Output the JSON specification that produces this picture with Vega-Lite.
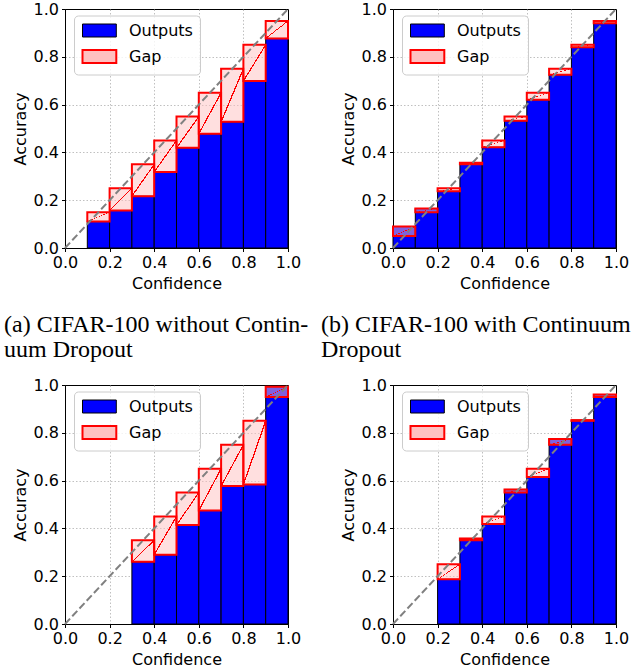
{
  "$schema": "https://vega.github.io/schema/vega-lite/v6.json",
  "padding": {"left": 3, "top": 0, "right": 0, "bottom": 0},
  "background": "white",
  "datasets": {
    "bars": [
      {"p": "a", "lo": 0.1, "hi": 0.2, "from": 0, "to": 0.111, "series": "Outputs"},
      {"p": "a", "lo": 0.2, "hi": 0.3, "from": 0, "to": 0.157, "series": "Outputs"},
      {"p": "a", "lo": 0.3, "hi": 0.4, "from": 0, "to": 0.217, "series": "Outputs"},
      {"p": "a", "lo": 0.4, "hi": 0.5, "from": 0, "to": 0.318, "series": "Outputs"},
      {"p": "a", "lo": 0.5, "hi": 0.6, "from": 0, "to": 0.419, "series": "Outputs"},
      {"p": "a", "lo": 0.6, "hi": 0.7, "from": 0, "to": 0.478, "series": "Outputs"},
      {"p": "a", "lo": 0.7, "hi": 0.8, "from": 0, "to": 0.528, "series": "Outputs"},
      {"p": "a", "lo": 0.8, "hi": 0.9, "from": 0, "to": 0.699, "series": "Outputs"},
      {"p": "a", "lo": 0.9, "hi": 1.0, "from": 0, "to": 0.877, "series": "Outputs"},
      {"p": "a", "lo": 0.1, "hi": 0.2, "from": 0.111, "to": 0.15, "series": "Gap"},
      {"p": "a", "lo": 0.2, "hi": 0.3, "from": 0.157, "to": 0.25, "series": "Gap"},
      {"p": "a", "lo": 0.3, "hi": 0.4, "from": 0.217, "to": 0.35, "series": "Gap"},
      {"p": "a", "lo": 0.4, "hi": 0.5, "from": 0.318, "to": 0.45, "series": "Gap"},
      {"p": "a", "lo": 0.5, "hi": 0.6, "from": 0.419, "to": 0.55, "series": "Gap"},
      {"p": "a", "lo": 0.6, "hi": 0.7, "from": 0.478, "to": 0.65, "series": "Gap"},
      {"p": "a", "lo": 0.7, "hi": 0.8, "from": 0.528, "to": 0.75, "series": "Gap"},
      {"p": "a", "lo": 0.8, "hi": 0.9, "from": 0.699, "to": 0.85, "series": "Gap"},
      {"p": "a", "lo": 0.9, "hi": 1.0, "from": 0.877, "to": 0.95, "series": "Gap"},

      {"p": "b", "lo": 0.0, "hi": 0.1, "from": 0, "to": 0.09, "series": "Outputs"},
      {"p": "b", "lo": 0.1, "hi": 0.2, "from": 0, "to": 0.165, "series": "Outputs"},
      {"p": "b", "lo": 0.2, "hi": 0.3, "from": 0, "to": 0.237, "series": "Outputs"},
      {"p": "b", "lo": 0.3, "hi": 0.4, "from": 0, "to": 0.357, "series": "Outputs"},
      {"p": "b", "lo": 0.4, "hi": 0.5, "from": 0, "to": 0.422, "series": "Outputs"},
      {"p": "b", "lo": 0.5, "hi": 0.6, "from": 0, "to": 0.532, "series": "Outputs"},
      {"p": "b", "lo": 0.6, "hi": 0.7, "from": 0, "to": 0.62, "series": "Outputs"},
      {"p": "b", "lo": 0.7, "hi": 0.8, "from": 0, "to": 0.725, "series": "Outputs"},
      {"p": "b", "lo": 0.8, "hi": 0.9, "from": 0, "to": 0.84, "series": "Outputs"},
      {"p": "b", "lo": 0.9, "hi": 1.0, "from": 0, "to": 0.94, "series": "Outputs"},
      {"p": "b", "lo": 0.0, "hi": 0.1, "from": 0.09, "to": 0.05, "series": "Gap"},
      {"p": "b", "lo": 0.1, "hi": 0.2, "from": 0.165, "to": 0.15, "series": "Gap"},
      {"p": "b", "lo": 0.2, "hi": 0.3, "from": 0.237, "to": 0.25, "series": "Gap"},
      {"p": "b", "lo": 0.3, "hi": 0.4, "from": 0.357, "to": 0.35, "series": "Gap"},
      {"p": "b", "lo": 0.4, "hi": 0.5, "from": 0.422, "to": 0.45, "series": "Gap"},
      {"p": "b", "lo": 0.5, "hi": 0.6, "from": 0.532, "to": 0.55, "series": "Gap"},
      {"p": "b", "lo": 0.6, "hi": 0.7, "from": 0.62, "to": 0.65, "series": "Gap"},
      {"p": "b", "lo": 0.7, "hi": 0.8, "from": 0.725, "to": 0.75, "series": "Gap"},
      {"p": "b", "lo": 0.8, "hi": 0.9, "from": 0.84, "to": 0.85, "series": "Gap"},
      {"p": "b", "lo": 0.9, "hi": 1.0, "from": 0.94, "to": 0.95, "series": "Gap"},

      {"p": "c", "lo": 0.3, "hi": 0.4, "from": 0, "to": 0.26, "series": "Outputs"},
      {"p": "c", "lo": 0.4, "hi": 0.5, "from": 0, "to": 0.29, "series": "Outputs"},
      {"p": "c", "lo": 0.5, "hi": 0.6, "from": 0, "to": 0.414, "series": "Outputs"},
      {"p": "c", "lo": 0.6, "hi": 0.7, "from": 0, "to": 0.475, "series": "Outputs"},
      {"p": "c", "lo": 0.7, "hi": 0.8, "from": 0, "to": 0.577, "series": "Outputs"},
      {"p": "c", "lo": 0.8, "hi": 0.9, "from": 0, "to": 0.584, "series": "Outputs"},
      {"p": "c", "lo": 0.9, "hi": 1.0, "from": 0, "to": 0.993, "series": "Outputs"},
      {"p": "c", "lo": 0.3, "hi": 0.4, "from": 0.26, "to": 0.35, "series": "Gap"},
      {"p": "c", "lo": 0.4, "hi": 0.5, "from": 0.29, "to": 0.45, "series": "Gap"},
      {"p": "c", "lo": 0.5, "hi": 0.6, "from": 0.414, "to": 0.55, "series": "Gap"},
      {"p": "c", "lo": 0.6, "hi": 0.7, "from": 0.475, "to": 0.65, "series": "Gap"},
      {"p": "c", "lo": 0.7, "hi": 0.8, "from": 0.577, "to": 0.75, "series": "Gap"},
      {"p": "c", "lo": 0.8, "hi": 0.9, "from": 0.584, "to": 0.85, "series": "Gap"},
      {"p": "c", "lo": 0.9, "hi": 1.0, "from": 0.993, "to": 0.95, "series": "Gap"},

      {"p": "d", "lo": 0.2, "hi": 0.3, "from": 0, "to": 0.187, "series": "Outputs"},
      {"p": "d", "lo": 0.3, "hi": 0.4, "from": 0, "to": 0.358, "series": "Outputs"},
      {"p": "d", "lo": 0.4, "hi": 0.5, "from": 0, "to": 0.418, "series": "Outputs"},
      {"p": "d", "lo": 0.5, "hi": 0.6, "from": 0, "to": 0.563, "series": "Outputs"},
      {"p": "d", "lo": 0.6, "hi": 0.7, "from": 0, "to": 0.615, "series": "Outputs"},
      {"p": "d", "lo": 0.7, "hi": 0.8, "from": 0, "to": 0.774, "series": "Outputs"},
      {"p": "d", "lo": 0.8, "hi": 0.9, "from": 0, "to": 0.853, "series": "Outputs"},
      {"p": "d", "lo": 0.9, "hi": 1.0, "from": 0, "to": 0.96, "series": "Outputs"},
      {"p": "d", "lo": 0.2, "hi": 0.3, "from": 0.187, "to": 0.25, "series": "Gap"},
      {"p": "d", "lo": 0.3, "hi": 0.4, "from": 0.358, "to": 0.35, "series": "Gap"},
      {"p": "d", "lo": 0.4, "hi": 0.5, "from": 0.418, "to": 0.45, "series": "Gap"},
      {"p": "d", "lo": 0.5, "hi": 0.6, "from": 0.563, "to": 0.55, "series": "Gap"},
      {"p": "d", "lo": 0.6, "hi": 0.7, "from": 0.615, "to": 0.65, "series": "Gap"},
      {"p": "d", "lo": 0.7, "hi": 0.8, "from": 0.774, "to": 0.75, "series": "Gap"},
      {"p": "d", "lo": 0.8, "hi": 0.9, "from": 0.853, "to": 0.85, "series": "Gap"},
      {"p": "d", "lo": 0.9, "hi": 1.0, "from": 0.96, "to": 0.95, "series": "Gap"}
    ],
    "diag": [{"lo": 0, "from": 0}, {"lo": 1, "from": 1}]
  },
  "columns": 2,
  "spacing": {"row": 137, "column": 105},
  "bounds": "flush",
  "resolve": {
    "scale": {"color": "independent", "stroke": "independent", "fillOpacity": "independent", "strokeWidth": "independent"},
    "legend": {"color": "independent", "stroke": "independent", "fillOpacity": "independent", "strokeWidth": "independent"}
  },
  "concat": [
    {
      "width": 223, "height": 239,
      "title": {"text": ["(a) CIFAR-100 without Contin-", "uum Dropout"], "orient": "bottom", "anchor": "start", "frame": "bounds", "dx": -8, "offset": 21},
      "layer": [
        {"data": {"name": "bars"}, "transform": [{"filter": "datum.p === 'a'"}],
         "mark": {"type": "bar", "strokeOpacity": 1},
         "encoding": {
           "x": {"field": "lo", "type": "quantitative", "scale": {"domain": [0, 1], "nice": false, "zero": false}, "title": "Confidence", "axis": {"gridOpacity": {"condition": {"test": "datum.value <= 0 || datum.value >= 1", "value": 0}, "value": 1}}},
           "x2": {"field": "hi"},
           "y": {"field": "from", "type": "quantitative", "scale": {"domain": [0, 1], "nice": false}, "title": "Accuracy", "axis": {"gridOpacity": {"condition": {"test": "datum.value <= 0 || datum.value >= 1", "value": 0}, "value": 1}}},
           "y2": {"field": "to"},
           "color": {"field": "series", "type": "nominal", "scale": {"domain": ["Outputs", "Gap"], "range": ["#0000ff", "#ffc0c0"]}, "legend": {"title": null}},
           "stroke": {"field": "series", "type": "nominal", "scale": {"domain": ["Outputs", "Gap"], "range": ["#000000", "#ff0000"]}, "legend": {"title": null}},
           "fillOpacity": {"field": "series", "type": "nominal", "scale": {"domain": ["Outputs", "Gap"], "range": [1, 0.5]}, "legend": {"title": null}},
           "strokeWidth": {"field": "series", "type": "nominal", "scale": {"domain": ["Outputs", "Gap"], "range": [1, 2]}, "legend": {"title": null}}
         }},
        {"data": {"name": "bars"}, "transform": [{"filter": "datum.p === 'a' && datum.series === 'Gap'"}],
         "mark": {"type": "bar", "strokeWidth": 0, "fill": {"gradient": "linear", "x1": 0, "y1": 0, "x2": 1, "y2": 1, "stops": [{"offset": 0, "color": "rgba(255,0,0,0)"}, {"offset": 0.485, "color": "rgba(255,0,0,0)"}, {"offset": 0.485, "color": "#ff0000"}, {"offset": 0.515, "color": "#ff0000"}, {"offset": 0.515, "color": "rgba(255,0,0,0)"}, {"offset": 1, "color": "rgba(255,0,0,0)"}]}},
         "encoding": {"x": {"field": "lo", "type": "quantitative"}, "x2": {"field": "hi"}, "y": {"field": "from", "type": "quantitative"}, "y2": {"field": "to"}}},
        {"data": {"name": "diag"},
         "mark": {"type": "line", "color": "#808080", "strokeWidth": 2, "strokeDash": [7.4, 3.2]},
         "encoding": {"x": {"field": "lo", "type": "quantitative"}, "y": {"field": "from", "type": "quantitative"}}}
      ]
    },
    {
      "width": 223, "height": 239,
      "title": {"text": ["(b) CIFAR-100 with Continuum", "Dropout"], "orient": "bottom", "anchor": "start", "frame": "bounds", "dx": -19, "offset": 21},
      "layer": [
        {"data": {"name": "bars"}, "transform": [{"filter": "datum.p === 'b'"}],
         "mark": {"type": "bar", "strokeOpacity": 1},
         "encoding": {
           "x": {"field": "lo", "type": "quantitative", "scale": {"domain": [0, 1], "nice": false, "zero": false}, "title": "Confidence", "axis": {"gridOpacity": {"condition": {"test": "datum.value <= 0 || datum.value >= 1", "value": 0}, "value": 1}}},
           "x2": {"field": "hi"},
           "y": {"field": "from", "type": "quantitative", "scale": {"domain": [0, 1], "nice": false}, "title": "Accuracy", "axis": {"gridOpacity": {"condition": {"test": "datum.value <= 0 || datum.value >= 1", "value": 0}, "value": 1}}},
           "y2": {"field": "to"},
           "color": {"field": "series", "type": "nominal", "scale": {"domain": ["Outputs", "Gap"], "range": ["#0000ff", "#ffc0c0"]}, "legend": {"title": null}},
           "stroke": {"field": "series", "type": "nominal", "scale": {"domain": ["Outputs", "Gap"], "range": ["#000000", "#ff0000"]}, "legend": {"title": null}},
           "fillOpacity": {"field": "series", "type": "nominal", "scale": {"domain": ["Outputs", "Gap"], "range": [1, 0.5]}, "legend": {"title": null}},
           "strokeWidth": {"field": "series", "type": "nominal", "scale": {"domain": ["Outputs", "Gap"], "range": [1, 2]}, "legend": {"title": null}}
         }},
        {"data": {"name": "bars"}, "transform": [{"filter": "datum.p === 'b' && datum.series === 'Gap'"}],
         "mark": {"type": "bar", "strokeWidth": 0, "fill": {"gradient": "linear", "x1": 0, "y1": 0, "x2": 1, "y2": 1, "stops": [{"offset": 0, "color": "rgba(255,0,0,0)"}, {"offset": 0.485, "color": "rgba(255,0,0,0)"}, {"offset": 0.485, "color": "#ff0000"}, {"offset": 0.515, "color": "#ff0000"}, {"offset": 0.515, "color": "rgba(255,0,0,0)"}, {"offset": 1, "color": "rgba(255,0,0,0)"}]}},
         "encoding": {"x": {"field": "lo", "type": "quantitative"}, "x2": {"field": "hi"}, "y": {"field": "from", "type": "quantitative"}, "y2": {"field": "to"}}},
        {"data": {"name": "diag"},
         "mark": {"type": "line", "color": "#808080", "strokeWidth": 2, "strokeDash": [7.4, 3.2]},
         "encoding": {"x": {"field": "lo", "type": "quantitative"}, "y": {"field": "from", "type": "quantitative"}}}
      ]
    },
    {
      "width": 223, "height": 239,
      "layer": [
        {"data": {"name": "bars"}, "transform": [{"filter": "datum.p === 'c'"}],
         "mark": {"type": "bar", "strokeOpacity": 1},
         "encoding": {
           "x": {"field": "lo", "type": "quantitative", "scale": {"domain": [0, 1], "nice": false, "zero": false}, "title": "Confidence", "axis": {"gridOpacity": {"condition": {"test": "datum.value <= 0 || datum.value >= 1", "value": 0}, "value": 1}}},
           "x2": {"field": "hi"},
           "y": {"field": "from", "type": "quantitative", "scale": {"domain": [0, 1], "nice": false}, "title": "Accuracy", "axis": {"gridOpacity": {"condition": {"test": "datum.value <= 0 || datum.value >= 1", "value": 0}, "value": 1}}},
           "y2": {"field": "to"},
           "color": {"field": "series", "type": "nominal", "scale": {"domain": ["Outputs", "Gap"], "range": ["#0000ff", "#ffc0c0"]}, "legend": {"title": null}},
           "stroke": {"field": "series", "type": "nominal", "scale": {"domain": ["Outputs", "Gap"], "range": ["#000000", "#ff0000"]}, "legend": {"title": null}},
           "fillOpacity": {"field": "series", "type": "nominal", "scale": {"domain": ["Outputs", "Gap"], "range": [1, 0.5]}, "legend": {"title": null}},
           "strokeWidth": {"field": "series", "type": "nominal", "scale": {"domain": ["Outputs", "Gap"], "range": [1, 2]}, "legend": {"title": null}}
         }},
        {"data": {"name": "bars"}, "transform": [{"filter": "datum.p === 'c' && datum.series === 'Gap'"}],
         "mark": {"type": "bar", "strokeWidth": 0, "fill": {"gradient": "linear", "x1": 0, "y1": 0, "x2": 1, "y2": 1, "stops": [{"offset": 0, "color": "rgba(255,0,0,0)"}, {"offset": 0.485, "color": "rgba(255,0,0,0)"}, {"offset": 0.485, "color": "#ff0000"}, {"offset": 0.515, "color": "#ff0000"}, {"offset": 0.515, "color": "rgba(255,0,0,0)"}, {"offset": 1, "color": "rgba(255,0,0,0)"}]}},
         "encoding": {"x": {"field": "lo", "type": "quantitative"}, "x2": {"field": "hi"}, "y": {"field": "from", "type": "quantitative"}, "y2": {"field": "to"}}},
        {"data": {"name": "diag"},
         "mark": {"type": "line", "color": "#808080", "strokeWidth": 2, "strokeDash": [7.4, 3.2]},
         "encoding": {"x": {"field": "lo", "type": "quantitative"}, "y": {"field": "from", "type": "quantitative"}}}
      ]
    },
    {
      "width": 223, "height": 239,
      "layer": [
        {"data": {"name": "bars"}, "transform": [{"filter": "datum.p === 'd'"}],
         "mark": {"type": "bar", "strokeOpacity": 1},
         "encoding": {
           "x": {"field": "lo", "type": "quantitative", "scale": {"domain": [0, 1], "nice": false, "zero": false}, "title": "Confidence", "axis": {"gridOpacity": {"condition": {"test": "datum.value <= 0 || datum.value >= 1", "value": 0}, "value": 1}}},
           "x2": {"field": "hi"},
           "y": {"field": "from", "type": "quantitative", "scale": {"domain": [0, 1], "nice": false}, "title": "Accuracy", "axis": {"gridOpacity": {"condition": {"test": "datum.value <= 0 || datum.value >= 1", "value": 0}, "value": 1}}},
           "y2": {"field": "to"},
           "color": {"field": "series", "type": "nominal", "scale": {"domain": ["Outputs", "Gap"], "range": ["#0000ff", "#ffc0c0"]}, "legend": {"title": null}},
           "stroke": {"field": "series", "type": "nominal", "scale": {"domain": ["Outputs", "Gap"], "range": ["#000000", "#ff0000"]}, "legend": {"title": null}},
           "fillOpacity": {"field": "series", "type": "nominal", "scale": {"domain": ["Outputs", "Gap"], "range": [1, 0.5]}, "legend": {"title": null}},
           "strokeWidth": {"field": "series", "type": "nominal", "scale": {"domain": ["Outputs", "Gap"], "range": [1, 2]}, "legend": {"title": null}}
         }},
        {"data": {"name": "bars"}, "transform": [{"filter": "datum.p === 'd' && datum.series === 'Gap'"}],
         "mark": {"type": "bar", "strokeWidth": 0, "fill": {"gradient": "linear", "x1": 0, "y1": 0, "x2": 1, "y2": 1, "stops": [{"offset": 0, "color": "rgba(255,0,0,0)"}, {"offset": 0.485, "color": "rgba(255,0,0,0)"}, {"offset": 0.485, "color": "#ff0000"}, {"offset": 0.515, "color": "#ff0000"}, {"offset": 0.515, "color": "rgba(255,0,0,0)"}, {"offset": 1, "color": "rgba(255,0,0,0)"}]}},
         "encoding": {"x": {"field": "lo", "type": "quantitative"}, "x2": {"field": "hi"}, "y": {"field": "from", "type": "quantitative"}, "y2": {"field": "to"}}},
        {"data": {"name": "diag"},
         "mark": {"type": "line", "color": "#808080", "strokeWidth": 2, "strokeDash": [7.4, 3.2]},
         "encoding": {"x": {"field": "lo", "type": "quantitative"}, "y": {"field": "from", "type": "quantitative"}}}
      ]
    }
  ],
  "config": {
    "view": {"stroke": "#000000", "strokeWidth": 1},
    "axis": {
      "labelFont": "DejaVu Sans", "labelFontSize": 16, "labelColor": "#000000",
      "titleFont": "DejaVu Sans", "titleFontSize": 16, "titleFontWeight": "normal", "titleColor": "#000000",
      "tickColor": "#000000", "tickSize": 3.5, "labelPadding": 3, "titlePadding": 5,
      "domainColor": "#000000", "domainWidth": 1,
      "gridColor": "#b0b0b0", "gridDash": [1.5, 2], "gridWidth": 0.8,
      "values": [0, 0.2, 0.4, 0.6, 0.8, 1.0], "format": ".1f",
      "labelFlush": false, "labelOverlap": false
    },
    "legend": {
      "orient": "none", "legendX": 9, "legendY": 6.5,
      "symbolType": "M-1,-1H4.2V1H-1Z", "symbolSize": 169,
      "labelFont": "DejaVu Sans", "labelFontSize": 16, "labelColor": "#000000",
      "padding": 7, "rowPadding": 6, "labelOffset": 32,
      "fillColor": "rgba(255,255,255,0.8)", "strokeColor": "#cccccc", "cornerRadius": 4
    },
    "title": {"font": "Liberation Serif", "fontSize": 24, "fontWeight": "normal", "color": "#000000", "lineHeight": 25}
  }
}
